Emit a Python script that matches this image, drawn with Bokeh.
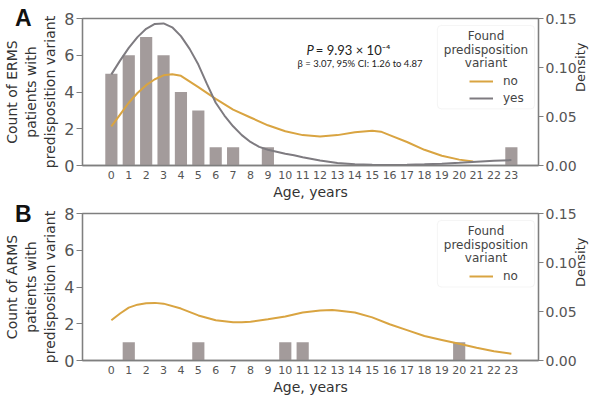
import math
from bokeh.plotting import figure
from bokeh.models import (Range1d, LinearAxis, FixedTicker, Label, BoxAnnotation,
                          Legend, LegendItem)
from bokeh.core.properties import value
from bokeh.layouts import column
from bokeh.embed import file_html
from bokeh.resources import INLINE

# ---------------- data ----------------
age_ticks = list(range(24))
count_ticks = [0, 2, 4, 6, 8]
density_ticks = [0.0, 0.05, 0.10, 0.15]
density_tick_labels = ["0.00", "0.05", "0.10", "0.15"]

erms_ages = [0, 1, 2, 3, 4, 5, 6, 7, 9, 23]
erms_counts = [5, 6, 7, 6, 4, 3, 1, 1, 1, 1]

arms_ages = [1, 5, 10, 11, 20]
arms_counts = [1, 1, 1, 1, 1]

erms_no_x = [0, 0.5, 1, 1.5, 2, 2.5, 3, 3.5, 4, 5, 6, 7, 8, 9, 10, 11, 12, 13, 14,
             15, 15.5, 16, 17, 18, 19, 20, 20.8]
erms_no_density = [0.040, 0.052, 0.064, 0.074, 0.082, 0.088, 0.092, 0.093, 0.0915,
                   0.080, 0.068, 0.057, 0.049, 0.041, 0.035, 0.031, 0.0295, 0.031,
                   0.034, 0.0355, 0.0345, 0.031, 0.024, 0.016, 0.010, 0.006, 0.004]

erms_yes_x = [0, 0.5, 1, 1.5, 2, 2.5, 3, 3.5, 4, 4.5, 5, 5.5, 6, 6.5, 7, 7.5, 8, 8.5,
              9, 9.5, 10, 10.5, 11, 12, 13, 14, 15, 16, 17, 18, 19, 20, 21, 22, 23]
erms_yes_density = [0.093, 0.107, 0.120, 0.131, 0.1395, 0.1445, 0.1450, 0.1410, 0.132,
                    0.119, 0.103, 0.083, 0.064, 0.051, 0.040, 0.031, 0.024, 0.019,
                    0.016, 0.014, 0.012, 0.0105, 0.0085, 0.005, 0.0025, 0.0012, 0.0007,
                    0.0006, 0.0008, 0.0012, 0.0019, 0.0028, 0.0038, 0.0048, 0.0055]

arms_no_x = [0, 0.5, 1, 1.5, 2, 2.5, 3, 4, 5, 6, 7, 7.5, 8, 9, 10, 11, 12, 12.7, 13,
             14, 15, 16, 17, 18, 19, 20, 21, 22, 23]
arms_no_density = [0.041, 0.048, 0.054, 0.057, 0.0585, 0.0588, 0.058, 0.053, 0.046,
                   0.041, 0.039, 0.039, 0.0395, 0.042, 0.045, 0.049, 0.051, 0.0515,
                   0.051, 0.049, 0.044, 0.037, 0.031, 0.025, 0.021, 0.017, 0.013,
                   0.0095, 0.007]

# ---------------- styling ----------------
XMIN, XMAX = -1.66, 24.56
W = 598
LEFT, RIGHT = 74, 55
FW = W - LEFT - RIGHT
FH = 148
BAR = "#a39b9b"
ORANGE = "#d9a441"
GREYLINE = "#7e7b80"
SPINE = "#7f7f7f"
TICKTXT = "#555555"
LABTXT = "#333333"


def xd(px):
    return XMIN + px * (XMAX - XMIN) / FW


def yd(d):
    return 8 - d * 8 / FH


def make_panel(letter, letter_d, ylabel, ages, counts, curves, top, bottom, box_bottom,
               extra=None):
    p = figure(width=W, height=top + FH + bottom,
               x_range=Range1d(XMIN, XMAX), y_range=Range1d(0, 8),
               output_backend="svg", toolbar_location=None,
               min_border_left=LEFT, min_border_right=RIGHT,
               min_border_top=top, min_border_bottom=bottom)
    p.extra_y_ranges = {"density": Range1d(0, 0.15)}
    p.xgrid.visible = False
    p.ygrid.visible = False
    p.outline_line_color = SPINE
    p.outline_line_width = 1.3

    p.vbar(x=ages, top=counts, width=0.7, fill_color=BAR, line_color=None)

    renderers = []
    for xs, ys, col, name in curves:
        r = p.line(xs, ys, y_range_name="density", line_color=col, line_width=2)
        renderers.append((name, r))

    # x axis
    xa = p.xaxis[0]
    xa.ticker = FixedTicker(ticks=age_ticks)
    xa.major_label_text_font = "DejaVu Sans"
    xa.major_label_text_font_size = "11px"
    xa.major_label_text_color = TICKTXT
    xa.major_tick_out = 0
    xa.major_tick_in = 0
    xa.minor_tick_out = 0
    xa.minor_tick_in = 0
    xa.major_label_standoff = 5
    xa.axis_line_color = SPINE
    xa.axis_line_width = 1.3
    xa.axis_label = "Age, years"
    xa.axis_label_text_font = "DejaVu Sans"
    xa.axis_label_text_font_size = "14px"
    xa.axis_label_text_font_style = "normal"
    xa.axis_label_text_color = LABTXT
    xa.axis_label_standoff = 2

    # left axis
    ya = p.yaxis[0]
    ya.ticker = FixedTicker(ticks=count_ticks)
    ya.major_label_text_font = "DejaVu Sans"
    ya.major_label_text_font_size = "16px"
    ya.major_label_text_color = TICKTXT
    ya.major_tick_out = 6
    ya.major_tick_in = 0
    ya.minor_tick_out = 0
    ya.minor_tick_in = 0
    ya.major_tick_line_color = SPINE
    ya.major_label_standoff = 2
    ya.axis_line_color = SPINE
    ya.axis_line_width = 1.3
    ya.axis_label = ylabel
    ya.axis_label_text_font = "DejaVu Sans"
    ya.axis_label_text_font_size = "14px"
    ya.axis_label_text_font_style = "normal"
    ya.axis_label_text_color = LABTXT
    ya.axis_label_standoff = 3

    # right axis
    ra = LinearAxis(y_range_name="density",
                    ticker=FixedTicker(ticks=density_ticks),
                    major_label_overrides={t: s for t, s in zip(density_ticks, density_tick_labels)})
    ra.major_label_text_font = "DejaVu Sans"
    ra.major_label_text_font_size = "14px"
    ra.major_label_text_color = TICKTXT
    ra.major_tick_out = 5
    ra.major_tick_in = 0
    ra.minor_tick_out = 0
    ra.minor_tick_in = 0
    ra.major_tick_line_color = SPINE
    ra.major_label_standoff = 2
    ra.axis_line_color = SPINE
    ra.axis_line_width = 1.3
    ra.axis_label = "Density"
    ra.axis_label_text_font = "DejaVu Sans"
    ra.axis_label_text_font_size = "13px"
    ra.axis_label_text_font_style = "normal"
    ra.axis_label_text_color = LABTXT
    ra.axis_label_standoff = 1
    if "axis_label_orientation" in ra.properties():
        ra.axis_label_orientation = math.pi / 2
    p.add_layout(ra, "right")

    # panel letter (overlay level: drawn outside the frame)
    p.text(x=[xd(-61)], y=[yd(letter_d)], text=[letter], level="overlay",
           text_align="center", text_baseline="middle",
           text_font=value("Liberation Sans"), text_font_style="bold",
           text_font_size="23px", text_color="#111111")

    # legend box + title
    p.add_layout(BoxAnnotation(left=xd(365), right=xd(465), top=yd(7), bottom=yd(box_bottom),
                               fill_color="white", fill_alpha=0.9,
                               line_color="#dcdcdc", line_width=1, border_radius=4))
    for d, t in zip([17.3, 31.3, 45], ["Found", "predisposition", "variant"]):
        p.add_layout(Label(x=xd(415), y=yd(d), text=t, text_align="center",
                           text_baseline="middle", text_font="DejaVu Sans",
                           text_font_size="12px", text_color="#444444"))

    items = [LegendItem(label=name, renderers=[r]) for name, r in renderers]
    n = len(items)
    leg_h = n * 14 + (n - 1) * 3
    leg_top = 64 - 7
    legend = Legend(items=items, location=(387, FH - (leg_top + leg_h)),
                    padding=0, margin=0, spacing=3, glyph_width=24, glyph_height=14,
                    label_height=14, label_standoff=10,
                    background_fill_alpha=0, border_line_color=None,
                    label_text_font="DejaVu Sans", label_text_font_size="12px",
                    label_text_color="#444444")
    p.add_layout(legend)

    if extra:
        extra(p)
    return p


def annotate_a(p):
    p.add_layout(Label(x=xd(238), y=yd(32), text="P", text_align="right",
                       text_baseline="middle", text_font="Lato",
                       text_font_style="italic", text_font_size="13px",
                       text_color="#222222"))
    p.add_layout(Label(x=xd(240), y=yd(32), text="= 9.93 × 10⁻⁴", text_align="left",
                       text_baseline="middle", text_font="Lato",
                       text_font_size="13px", text_color="#222222"))
    p.add_layout(Label(x=xd(285.5), y=yd(45), text="β = 3.07, 95% CI: 1.26 to 4.87",
                       text_align="center", text_baseline="middle", text_font="Lato",
                       text_font_size="9.5px", text_color="#222222"))


pA = make_panel("A", -1, "Count of ERMS\npatients with\npredisposition variant",
                erms_ages, erms_counts,
                [(erms_no_x, erms_no_density, ORANGE, "no"),
                 (erms_yes_x, erms_yes_density, GREYLINE, "yes")],
                top=18, bottom=36, box_bottom=91, extra=annotate_a)

pB = make_panel("B", 0, "Count of ARMS\npatients with\npredisposition variant",
                arms_ages, arms_counts,
                [(arms_no_x, arms_no_density, ORANGE, "no")],
                top=11, bottom=36, box_bottom=74)

layout = column(pA, pB)
open("out.html", "w").write(file_html(layout, INLINE))
